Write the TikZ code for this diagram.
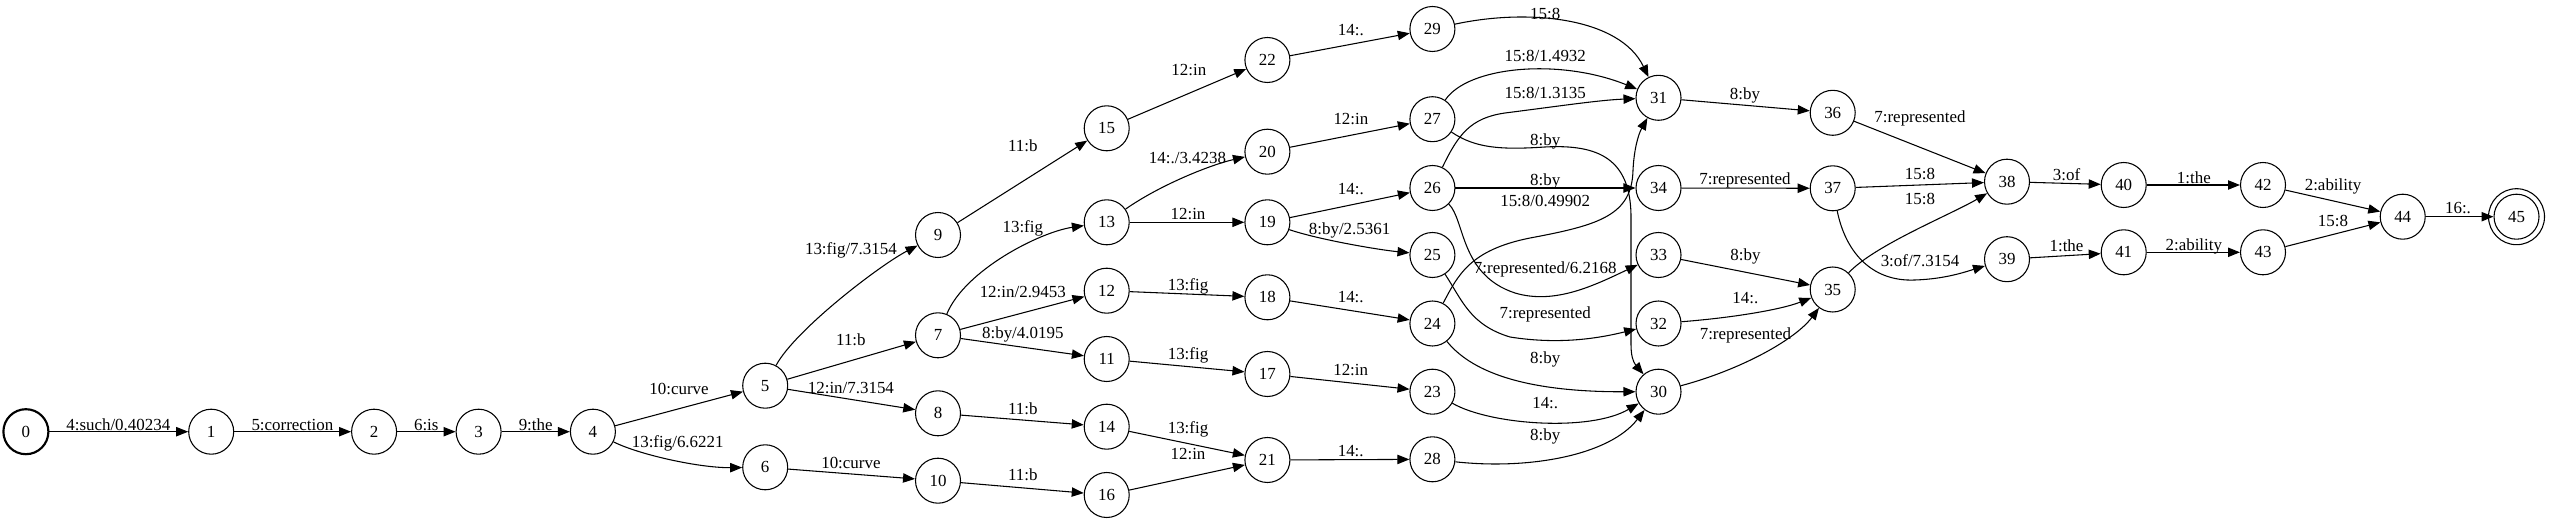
\documentclass[tikz,border=0pt]{standalone}
\usepackage{fontspec}
\setmainfont{Liberation Serif}
\usetikzlibrary{arrows.meta}
\begin{document}
\begin{tikzpicture}[x=0.75pt,y=-0.75pt,
 st/.style={draw,circle,minimum size=33.75pt,inner sep=0pt,line width=0.8pt,font=\fontsize{12.7}{15}\selectfont},
 lbl/.style={anchor=base,yshift=-4.3pt,inner sep=0pt,font=\fontsize{12.7}{15}\selectfont},
 tr/.style={-{Triangle[length=9pt,width=7pt]},line width=0.8pt}]
\useasboundingbox (0,0) rectangle (2550,523);
% states
\node[st,line width=1.6pt] (n0) at (25.9,431.7) {0};
\node[st] (n1) at (211.2,431.7) {1};
\node[st] (n2) at (374.1,431.7) {2};
\node[st] (n3) at (478.6,431.7) {3};
\node[st] (n4) at (592.9,431.7) {4};
\node[st] (n5) at (765.2,385.7) {5};
\node[st] (n6) at (765.2,467.3) {6};
\node[st] (n7) at (938,335.3) {7};
\node[st] (n8) at (938,413.3) {8};
\node[st] (n9) at (938,235) {9};
\node[st] (n10) at (938,480.7) {10};
\node[st] (n11) at (1106.7,359) {11};
\node[st] (n12) at (1106.7,290.7) {12};
\node[st] (n13) at (1106.7,222.3) {13};
\node[st] (n14) at (1106.7,426.7) {14};
\node[st] (n15) at (1106.7,128.3) {15};
\node[st] (n16) at (1106.7,495) {16};
\node[st] (n17) at (1267.4,374) {17};
\node[st] (n18) at (1267.4,297.3) {18};
\node[st] (n19) at (1267.4,222.3) {19};
\node[st] (n20) at (1267.4,151.7) {20};
\node[st] (n21) at (1267.4,460) {21};
\node[st] (n22) at (1267.4,60) {22};
\node[st] (n23) at (1432.4,391.7) {23};
\node[st] (n24) at (1432.4,323.5) {24};
\node[st] (n25) at (1432.4,255) {25};
\node[st] (n26) at (1432.4,188) {26};
\node[st] (n27) at (1432.4,119.2) {27};
\node[st] (n28) at (1432.4,459.3) {28};
\node[st] (n29) at (1432.4,29) {29};
\node[st] (n30) at (1658.5,391.7) {30};
\node[st] (n31) at (1658.5,97.8) {31};
\node[st] (n32) at (1658.5,323.5) {32};
\node[st] (n33) at (1658.5,255) {33};
\node[st] (n34) at (1658.5,188) {34};
\node[st] (n35) at (1832.7,289.5) {35};
\node[st] (n36) at (1832.7,112.8) {36};
\node[st] (n37) at (1832.7,188.3) {37};
\node[st] (n38) at (2007,181.7) {38};
\node[st] (n39) at (2007,259.2) {39};
\node[st] (n40) at (2123.7,185) {40};
\node[st] (n41) at (2123.7,252.3) {41};
\node[st] (n42) at (2263,185) {42};
\node[st] (n43) at (2263,252.3) {43};
\node[st] (n44) at (2402.7,216.7) {44};
\node[st] (n45) at (2516.5,216.7) {45};
\draw[line width=0.8pt] (n45.center) circle[radius=21pt];
% straight transitions
\draw[tr] (n0) -- (n1);
\draw[tr] (n1) -- (n2);
\draw[tr] (n2) -- (n3);
\draw[tr] (n3) -- (n4);
\draw[tr] (n4) -- (n5);
\draw[tr] (n5) -- (n7);
\draw[tr] (n5) -- (n8);
\draw[tr] (n6) -- (n10);
\draw[tr] (n7) -- (n12);
\draw[tr] (n7) -- (n11);
\draw[tr] (n8) -- (n14);
\draw[tr] (n10) -- (n16);
\draw[tr] (n9) -- (n15);
\draw[tr] (n13) -- (n19);
\draw[tr] (n15) -- (n22);
\draw[tr] (n12) -- (n18);
\draw[tr] (n11) -- (n17);
\draw[tr] (n14) -- (n21);
\draw[tr] (n16) -- (n21);
\draw[tr] (n22) -- (n29);
\draw[tr] (n20) -- (n27);
\draw[tr] (n19) -- (n26);
\draw[tr] (n18) -- (n24);
\draw[tr] (n17) -- (n23);
\draw[tr] (n21) -- (n28);
\draw[tr] (n26) -- (n34);
\draw[tr] (n31) -- (n36);
\draw[tr] (n34) -- (n37);
\draw[tr] (n33) -- (n35);
\draw[tr] (n36) -- (n38);
\draw[tr] (n37) -- (n38);
\draw[tr] (n38) -- (n40);
\draw[tr] (n39) -- (n41);
\draw[tr] (n40) -- (n42);
\draw[tr] (n41) -- (n43);
\draw[tr] (n42) -- (n44);
\draw[tr] (n43) -- (n44);
\draw[tr] (n44) -- (n45);
% curved transitions
\draw[tr] (n4) .. controls (640,455) and (700,468) .. (n6);
\draw[tr] (n5) .. controls (795,330) and (880,265) .. (n9);
\draw[tr] (n7) .. controls (965,270) and (1040,232) .. (n13);
\draw[tr] (n13) .. controls (1160,185) and (1210,165) .. (n20);
\draw[tr] (n19) .. controls (1320,240) and (1380,250) .. (n25);
\draw[tr] (n29) .. controls (1530,8) and (1620,18) .. (n31);
\draw[tr] (n27) .. controls (1468,66) and (1560,58) .. (n31);
\draw[tr] (n26) .. controls (1458,135) and (1470,118) .. (1505,113) .. controls (1560,106) and (1600,100) .. (n31);
\draw[tr] (n27) .. controls (1475,148) and (1500,150) .. (1545,147) .. controls (1600,144) and (1630,160) .. (1631,215) -- (1631,345) .. controls (1631,355) and (1633,362) .. (n30);
\draw[tr] (n24) .. controls (1458,275) and (1470,250) .. (1530,238) .. controls (1600,225) and (1632,215) .. (1633,170) .. controls (1634,150) and (1638,135) .. (n31);
\draw[tr] (n26) .. controls (1465,220) and (1460,275) .. (1515,293) .. controls (1555,305) and (1595,285) .. (n33);
\draw[tr] (n25) .. controls (1462,300) and (1470,325) .. (1510,337) .. controls (1560,345) and (1600,338) .. (n32);
\draw[tr] (n24) .. controls (1470,370) and (1520,392) .. (n30);
\draw[tr] (n23) .. controls (1490,425) and (1590,432) .. (n30);
\draw[tr] (n28) .. controls (1530,470) and (1610,455) .. (n30);
\draw[tr] (n32) .. controls (1730,318) and (1780,310) .. (n35);
\draw[tr] (n30) .. controls (1740,370) and (1795,340) .. (n35);
\draw[tr] (n35) .. controls (1875,245) and (1950,215) .. (n38);
\draw[tr] (n37) .. controls (1845,250) and (1870,282) .. (1915,280) .. controls (1945,279) and (1965,272) .. (n39);
% labels
\node[lbl] (e1) at (118.3,424.3) {4:such/0.40234};
\node[lbl] (e2) at (292.4,424.3) {5:correction};
\node[lbl] (e3) at (426.3,424.3) {6:is};
\node[lbl] (e4) at (535.7,424.3) {9:the};
\node[lbl] (e5) at (679,389) {10:curve};
\node[lbl] (e6) at (677.7,441.7) {13:fig/6.6221};
\node[lbl] (e7) at (850.9,249) {13:fig/7.3154};
\node[lbl] (e8) at (850.9,339.3) {11:b};
\node[lbl] (e9) at (850.9,387.3) {12:in/7.3154};
\node[lbl] (e10) at (850.9,462.3) {10:curve};
\node[lbl] (e11) at (1022.8,226.7) {13:fig};
\node[lbl] (e12) at (1022.8,291.7) {12:in/2.9453};
\node[lbl] (e13) at (1022.8,332.7) {8:by/4.0195};
\node[lbl] (e14) at (1022.8,408.3) {11:b};
\node[lbl] (e15) at (1022.8,475) {11:b};
\node[lbl] (e16) at (1022.8,146) {11:b};
\node[lbl] (e17) at (1188,213.3) {12:in};
\node[lbl] (e18) at (1188,284.3) {13:fig};
\node[lbl] (e19) at (1188,354) {13:fig};
\node[lbl] (e20) at (1188,427.3) {13:fig};
\node[lbl] (e21) at (1188,454) {12:in};
\node[lbl] (e22) at (1188.8,70) {12:in};
\node[lbl] (e23) at (1187.5,157.7) {14:./3.4238};
\node[lbl] (e24) at (1350.9,29.3) {14:.};
\node[lbl] (e25) at (1350.9,118.3) {12:in};
\node[lbl] (e26) at (1350.9,188.3) {14:.};
\node[lbl] (e27) at (1349.6,229) {8:by/2.5361};
\node[lbl] (e28) at (1350.7,296.7) {14:.};
\node[lbl] (e29) at (1350.7,370) {12:in};
\node[lbl] (e30) at (1350.7,451) {14:.};
\node[lbl] (e31) at (1545.2,14) {15:8};
\node[lbl] (e32) at (1545.2,56) {15:8/1.4932};
\node[lbl] (e33) at (1545.2,92.7) {15:8/1.3135};
\node[lbl] (e34) at (1545.2,139.3) {8:by};
\node[lbl] (e35) at (1545.2,179.3) {8:by};
\node[lbl] (e36) at (1545.2,200.7) {15:8/0.49902};
\node[lbl] (e37) at (1545.2,267.7) {7:represented/6.2168};
\node[lbl] (e38) at (1545.2,312.7) {7:represented};
\node[lbl] (e39) at (1545.2,357.7) {8:by};
\node[lbl] (e40) at (1545.2,402.7) {14:.};
\node[lbl] (e41) at (1545.2,434.3) {8:by};
\node[lbl] (e42) at (1745,93.3) {8:by};
\node[lbl] (e43) at (1745,179) {7:represented};
\node[lbl] (e44) at (1745.4,255) {8:by};
\node[lbl] (e45) at (1745.4,297.3) {14:.};
\node[lbl] (e46) at (1745.4,334) {7:represented};
\node[lbl] (e47) at (1920,116.7) {7:represented};
\node[lbl] (e48) at (1920,174) {15:8};
\node[lbl] (e49) at (1920,198.3) {15:8};
\node[lbl] (e50) at (1920,261) {3:of/7.3154};
\node[lbl] (e51) at (2066.5,174.3) {3:of};
\node[lbl] (e52) at (2066.5,245.7) {1:the};
\node[lbl] (e53) at (2193.8,177.3) {1:the};
\node[lbl] (e54) at (2193.8,245) {2:ability};
\node[lbl] (e55) at (2333,185) {2:ability};
\node[lbl] (e56) at (2333,220.7) {15:8};
\node[lbl] (e57) at (2458,207.7) {16:.};
\end{tikzpicture}
\end{document}
